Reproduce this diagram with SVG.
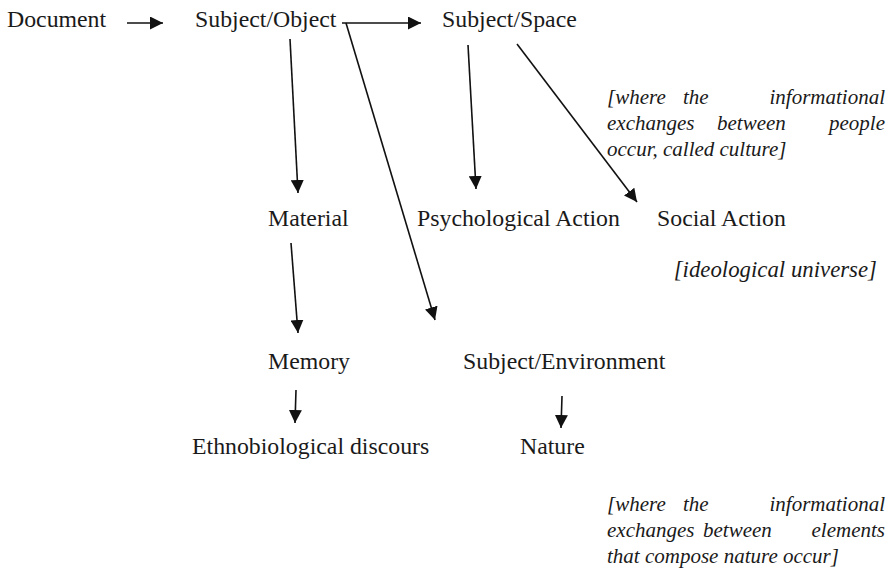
<svg xmlns="http://www.w3.org/2000/svg" width="891" height="576" viewBox="0 0 891 576">
<style>
.n{font-family:"Liberation Serif","Times New Roman",serif;font-size:23.8px;fill:#1a1a1a}
.i{font-family:"Liberation Serif","Times New Roman",serif;font-size:21px;font-style:italic;fill:#1a1a1a}
.c{stroke:#111;stroke-width:1.6;fill:none;marker-end:url(#ah)}
</style>
<defs>
<marker id="ah" markerUnits="userSpaceOnUse" markerWidth="14" markerHeight="13" refX="13" refY="6.5" orient="auto">
<path d="M0,0 L13,6.5 L0,13 z" fill="#111"/>
</marker>
</defs>
<rect width="891" height="576" fill="#fff"/>
<g id="connectors">
<line class="c" x1="127" y1="23" x2="163" y2="23"/>
<line class="c" x1="342" y1="23" x2="421" y2="23"/>
<line class="c" x1="346" y1="23" x2="435" y2="320"/>
<line class="c" x1="290" y1="39" x2="298" y2="193"/>
<line class="c" x1="468" y1="45" x2="476" y2="189"/>
<line class="c" x1="517" y1="44" x2="637" y2="202"/>
<line class="c" x1="291" y1="243" x2="298" y2="333"/>
<line class="c" x1="296" y1="390" x2="295" y2="423"/>
<line class="c" x1="562" y1="396" x2="561" y2="428"/>
</g>
<g id="document"><text class="n" x="7" y="27">Document</text></g>
<g id="subject-object"><text class="n" x="195" y="27">Subject/Object</text></g>
<g id="subject-space"><text class="n" x="442" y="27">Subject/Space</text></g>
<g id="material"><text class="n" x="268" y="226">Material</text></g>
<g id="psychological-action"><text class="n" x="417" y="226">Psychological Action</text></g>
<g id="social-action"><text class="n" x="657" y="226">Social Action</text></g>
<g id="memory"><text class="n" x="268" y="369">Memory</text></g>
<g id="subject-environment"><text class="n" x="463" y="369">Subject/Environment</text></g>
<g id="ethnobiological-discours"><text class="n" x="192" y="454">Ethnobiological discours</text></g>
<g id="nature"><text class="n" x="520" y="454">Nature</text></g>
<g id="note-culture">
<text class="i" x="607" y="104">[where</text>
<text class="i" x="683" y="104">the</text>
<text class="i" x="885" y="104" text-anchor="end">informational</text>
<text class="i" x="607" y="130">exchanges</text>
<text class="i" x="717" y="130">between</text>
<text class="i" x="885" y="130" text-anchor="end">people</text>
<text class="i" x="607" y="156">occur, called culture]</text>
</g>
<g id="note-ideological"><text class="i" x="877" y="277" text-anchor="end" style="font-size:22.8px">[ideological universe]</text></g>
<g id="note-nature">
<text class="i" x="607" y="511">[where</text>
<text class="i" x="683" y="511">the</text>
<text class="i" x="885" y="511" text-anchor="end">informational</text>
<text class="i" x="607" y="537">exchanges</text>
<text class="i" x="703" y="537">between</text>
<text class="i" x="885" y="537" text-anchor="end">elements</text>
<text class="i" x="607" y="563">that compose nature occur]</text>
</g>
</svg>
